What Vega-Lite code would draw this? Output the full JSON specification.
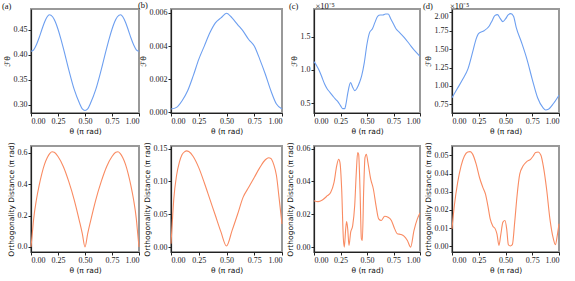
{
  "$schema": "https://vega.github.io/schema/vega-lite/v6.json",
  "padding": {"left": 1, "top": 0, "right": 2, "bottom": 2},
  "background": "white",
  "config": {
    "view": {"stroke": "#999999", "strokeWidth": 2},
    "axis": {"labelFont": "Liberation Serif", "labelFontSize": 8, "labelColor": "#222", "titleFont": "DejaVu Sans", "titleFontSize": 7.5, "titleFontWeight": "normal", "titleColor": "#111", "tickSize": 3, "tickColor": "#222", "tickWidth": 1, "domainColor": "#222", "domainWidth": 1.2, "grid": false, "labelPadding": 1, "titlePadding": 2},
    "title": {"font": "Liberation Serif", "fontSize": 8.5, "fontWeight": "normal", "anchor": "start", "frame": "bounds", "offset": -1, "dx": -1, "color": "#111"},
    "line": {"strokeWidth": 1.1, "interpolate": "monotone", "clip": true}
  },
  "datasets": {
    "ta": [
      {"t": 0, "v": 0.407}, {"t": 0.025, "v": 0.410}, {"t": 0.05, "v": 0.420}, {"t": 0.075, "v": 0.434}, {"t": 0.1, "v": 0.450}, {"t": 0.125, "v": 0.465}, {"t": 0.15, "v": 0.476}, {"t": 0.17, "v": 0.480}, {"t": 0.2, "v": 0.476}, {"t": 0.225, "v": 0.466}, {"t": 0.25, "v": 0.451}, {"t": 0.275, "v": 0.433}, {"t": 0.3, "v": 0.413}, {"t": 0.35, "v": 0.370}, {"t": 0.4, "v": 0.331}, {"t": 0.45, "v": 0.303}, {"t": 0.475, "v": 0.292}, {"t": 0.5, "v": 0.289},
      {"t": 0.525, "v": 0.292}, {"t": 0.55, "v": 0.303}, {"t": 0.6, "v": 0.331}, {"t": 0.65, "v": 0.370}, {"t": 0.7, "v": 0.413}, {"t": 0.725, "v": 0.433}, {"t": 0.75, "v": 0.451}, {"t": 0.775, "v": 0.466}, {"t": 0.8, "v": 0.476}, {"t": 0.83, "v": 0.480}, {"t": 0.85, "v": 0.476}, {"t": 0.875, "v": 0.465}, {"t": 0.9, "v": 0.450}, {"t": 0.925, "v": 0.434}, {"t": 0.95, "v": 0.420}, {"t": 0.975, "v": 0.410}, {"t": 1, "v": 0.407}
    ],
    "tb": [
      {"t": 0, "v": 0.0002}, {"t": 0.05, "v": 0.0003}, {"t": 0.1, "v": 0.0007}, {"t": 0.15, "v": 0.0013}, {"t": 0.2, "v": 0.0022}, {"t": 0.25, "v": 0.0032}, {"t": 0.3, "v": 0.0040}, {"t": 0.35, "v": 0.0048}, {"t": 0.4, "v": 0.0054}, {"t": 0.45, "v": 0.0057}, {"t": 0.5, "v": 0.00598}, {"t": 0.55, "v": 0.0057}, {"t": 0.6, "v": 0.0053}, {"t": 0.65, "v": 0.0049}, {"t": 0.7, "v": 0.0044}, {"t": 0.75, "v": 0.0040}, {"t": 0.8, "v": 0.0032}, {"t": 0.85, "v": 0.0023}, {"t": 0.9, "v": 0.0013}, {"t": 0.95, "v": 0.0005}, {"t": 1, "v": 0.0002}
    ],
    "tc": [
      {"t": 0, "v": 1.125}, {"t": 0.025, "v": 1.065}, {"t": 0.05, "v": 0.99}, {"t": 0.075, "v": 0.89}, {"t": 0.1, "v": 0.79}, {"t": 0.125, "v": 0.715}, {"t": 0.15, "v": 0.665}, {"t": 0.175, "v": 0.615}, {"t": 0.2, "v": 0.565}, {"t": 0.225, "v": 0.525}, {"t": 0.25, "v": 0.465}, {"t": 0.27, "v": 0.42}, {"t": 0.29, "v": 0.42}, {"t": 0.3, "v": 0.475}, {"t": 0.32, "v": 0.665}, {"t": 0.345, "v": 0.81}, {"t": 0.365, "v": 0.74}, {"t": 0.385, "v": 0.69}, {"t": 0.405, "v": 0.725}, {"t": 0.43, "v": 0.815}, {"t": 0.45, "v": 0.915}, {"t": 0.475, "v": 1.115}, {"t": 0.5, "v": 1.39}, {"t": 0.525, "v": 1.565}, {"t": 0.55, "v": 1.615}, {"t": 0.575, "v": 1.715}, {"t": 0.6, "v": 1.805}, {"t": 0.625, "v": 1.825}, {"t": 0.65, "v": 1.825}, {"t": 0.675, "v": 1.84}, {"t": 0.7, "v": 1.84}, {"t": 0.725, "v": 1.765}, {"t": 0.75, "v": 1.69}, {"t": 0.775, "v": 1.615}, {"t": 0.8, "v": 1.575}, {"t": 0.85, "v": 1.49}, {"t": 0.9, "v": 1.39}, {"t": 0.95, "v": 1.29}, {"t": 1, "v": 1.205}
    ],
    "td": [
      {"t": 0, "v": 0.84}, {"t": 0.05, "v": 0.964}, {"t": 0.1, "v": 1.09}, {"t": 0.15, "v": 1.235}, {"t": 0.2, "v": 1.5}, {"t": 0.225, "v": 1.636}, {"t": 0.25, "v": 1.714}, {"t": 0.3, "v": 1.75}, {"t": 0.35, "v": 1.818}, {"t": 0.375, "v": 1.886}, {"t": 0.4, "v": 1.955}, {"t": 0.425, "v": 1.968}, {"t": 0.45, "v": 1.918}, {"t": 0.475, "v": 1.873}, {"t": 0.5, "v": 1.91}, {"t": 0.525, "v": 1.964}, {"t": 0.55, "v": 1.982}, {"t": 0.575, "v": 1.945}, {"t": 0.6, "v": 1.795}, {"t": 0.65, "v": 1.59}, {"t": 0.7, "v": 1.364}, {"t": 0.75, "v": 1.09}, {"t": 0.8, "v": 0.84}, {"t": 0.85, "v": 0.705}, {"t": 0.875, "v": 0.673}, {"t": 0.9, "v": 0.682}, {"t": 0.95, "v": 0.764}, {"t": 1, "v": 0.873}
    ],
    "ba": [
      {"t": 0, "v": 0}, {"t": 0.01, "v": 0.07}, {"t": 0.025, "v": 0.18}, {"t": 0.05, "v": 0.30}, {"t": 0.075, "v": 0.39}, {"t": 0.1, "v": 0.465}, {"t": 0.125, "v": 0.525}, {"t": 0.15, "v": 0.567}, {"t": 0.175, "v": 0.595}, {"t": 0.195, "v": 0.605}, {"t": 0.215, "v": 0.602}, {"t": 0.25, "v": 0.575}, {"t": 0.3, "v": 0.51}, {"t": 0.35, "v": 0.415}, {"t": 0.4, "v": 0.30}, {"t": 0.45, "v": 0.16}, {"t": 0.475, "v": 0.085}, {"t": 0.5, "v": 0},
      {"t": 0.525, "v": 0.085}, {"t": 0.55, "v": 0.16}, {"t": 0.6, "v": 0.30}, {"t": 0.65, "v": 0.415}, {"t": 0.7, "v": 0.51}, {"t": 0.75, "v": 0.575}, {"t": 0.785, "v": 0.602}, {"t": 0.805, "v": 0.605}, {"t": 0.825, "v": 0.595}, {"t": 0.85, "v": 0.567}, {"t": 0.875, "v": 0.525}, {"t": 0.9, "v": 0.465}, {"t": 0.925, "v": 0.39}, {"t": 0.95, "v": 0.30}, {"t": 0.975, "v": 0.18}, {"t": 0.99, "v": 0.07}, {"t": 1, "v": 0}
    ],
    "bb": [
      {"t": 0, "v": 0.005}, {"t": 0.01, "v": 0.033}, {"t": 0.025, "v": 0.073}, {"t": 0.05, "v": 0.109}, {"t": 0.075, "v": 0.129}, {"t": 0.1, "v": 0.141}, {"t": 0.125, "v": 0.1455}, {"t": 0.14, "v": 0.1465}, {"t": 0.16, "v": 0.1455}, {"t": 0.2, "v": 0.138}, {"t": 0.25, "v": 0.121}, {"t": 0.3, "v": 0.098}, {"t": 0.35, "v": 0.073}, {"t": 0.4, "v": 0.048}, {"t": 0.45, "v": 0.023}, {"t": 0.5, "v": 0.0015}, {"t": 0.55, "v": 0.025}, {"t": 0.6, "v": 0.050}, {"t": 0.65, "v": 0.076}, {"t": 0.7, "v": 0.091}, {"t": 0.75, "v": 0.106}, {"t": 0.8, "v": 0.121}, {"t": 0.85, "v": 0.133}, {"t": 0.88, "v": 0.136}, {"t": 0.9, "v": 0.135}, {"t": 0.925, "v": 0.126}, {"t": 0.95, "v": 0.109}, {"t": 0.975, "v": 0.073}, {"t": 1, "v": 0.035}
    ],
    "bc": [
      {"t": 0, "v": 0.0283}, {"t": 0.038, "v": 0.0277}, {"t": 0.079, "v": 0.0287}, {"t": 0.126, "v": 0.0313}, {"t": 0.157, "v": 0.0333}, {"t": 0.189, "v": 0.0394}, {"t": 0.214, "v": 0.0495}, {"t": 0.233, "v": 0.0535}, {"t": 0.245, "v": 0.0515}, {"t": 0.261, "v": 0.0354}, {"t": 0.277, "v": 0.0051}, {"t": 0.286, "v": 0}, {"t": 0.299, "v": 0.0111}, {"t": 0.308, "v": 0.0156}, {"t": 0.318, "v": 0.0111}, {"t": 0.33, "v": 0.001}, {"t": 0.346, "v": 0.0091}, {"t": 0.365, "v": 0.0131}, {"t": 0.384, "v": 0.0253}, {"t": 0.399, "v": 0.0455}, {"t": 0.412, "v": 0.0576}, {"t": 0.421, "v": 0.0566}, {"t": 0.434, "v": 0.0354}, {"t": 0.447, "v": 0.0051}, {"t": 0.456, "v": 0.004}, {"t": 0.469, "v": 0.0354}, {"t": 0.481, "v": 0.0545}, {"t": 0.494, "v": 0.0566}, {"t": 0.509, "v": 0.0515}, {"t": 0.535, "v": 0.0414}, {"t": 0.56, "v": 0.0354}, {"t": 0.585, "v": 0.0253}, {"t": 0.61, "v": 0.0172}, {"t": 0.635, "v": 0.0162}, {"t": 0.667, "v": 0.0188}, {"t": 0.698, "v": 0.0182}, {"t": 0.73, "v": 0.0162}, {"t": 0.761, "v": 0.0111}, {"t": 0.786, "v": 0.0081}, {"t": 0.818, "v": 0.0077}, {"t": 0.849, "v": 0.0067}, {"t": 0.881, "v": 0.004}, {"t": 0.912, "v": 0}, {"t": 0.943, "v": 0.0101}, {"t": 0.975, "v": 0.0172}, {"t": 1, "v": 0.0208}
    ],
    "bd": [
      {"t": 0, "v": 0.0096}, {"t": 0.022, "v": 0.0224}, {"t": 0.053, "v": 0.0351}, {"t": 0.085, "v": 0.0442}, {"t": 0.116, "v": 0.0496}, {"t": 0.147, "v": 0.0518}, {"t": 0.169, "v": 0.052}, {"t": 0.194, "v": 0.0505}, {"t": 0.226, "v": 0.0451}, {"t": 0.257, "v": 0.0378}, {"t": 0.288, "v": 0.0324}, {"t": 0.313, "v": 0.0287}, {"t": 0.335, "v": 0.0224}, {"t": 0.357, "v": 0.0151}, {"t": 0.382, "v": 0.0111}, {"t": 0.404, "v": 0.0096}, {"t": 0.42, "v": 0.0069}, {"t": 0.439, "v": 0.0005}, {"t": 0.455, "v": 0.006}, {"t": 0.476, "v": 0.0133}, {"t": 0.495, "v": 0.0142}, {"t": 0.511, "v": 0.0096}, {"t": 0.527, "v": 0.0009}, {"t": 0.545, "v": 0.0002}, {"t": 0.564, "v": 0.0009}, {"t": 0.586, "v": 0.0133}, {"t": 0.608, "v": 0.0278}, {"t": 0.633, "v": 0.0396}, {"t": 0.665, "v": 0.0442}, {"t": 0.696, "v": 0.0464}, {"t": 0.734, "v": 0.0478}, {"t": 0.759, "v": 0.0496}, {"t": 0.781, "v": 0.0515}, {"t": 0.806, "v": 0.0518}, {"t": 0.831, "v": 0.05}, {"t": 0.853, "v": 0.0442}, {"t": 0.884, "v": 0.0315}, {"t": 0.915, "v": 0.0151}, {"t": 0.947, "v": 0.0042}, {"t": 0.966, "v": 0.0009}, {"t": 0.984, "v": 0.006}, {"t": 1, "v": 0.0124}
    ]
  },
  "columns": 4,
  "align": "each",
  "spacing": {"row": 33, "column": 32},
  "bounds": "flush",
  "concat": [
    {"data": {"name": "ta"}, "width": 108, "height": 104, "title": "(a)",
     "mark": {"type": "line", "color": "#6d9ff0"},
     "encoding": {
       "x": {"field": "t", "type": "quantitative", "scale": {"domain": [0, 1], "nice": false}, "axis": {"values": [0, 0.25, 0.5, 0.75, 1], "format": ".2f", "title": "θ (π rad)"}},
       "y": {"field": "v", "type": "quantitative", "scale": {"domain": [0.284, 0.4914], "nice": false, "zero": false}, "axis": {"values": [0.3, 0.35, 0.4, 0.45], "format": ".2f", "title": "ℱθ"}}}},
    {"data": {"name": "tb"}, "width": 111, "height": 104, "title": "(b)",
     "mark": {"type": "line", "color": "#6d9ff0"},
     "encoding": {
       "x": {"field": "t", "type": "quantitative", "scale": {"domain": [0, 1], "nice": false}, "axis": {"values": [0, 0.25, 0.5, 0.75, 1], "format": ".2f", "title": "θ (π rad)"}},
       "y": {"field": "v", "type": "quantitative", "scale": {"domain": [-0.00004, 0.00624], "nice": false, "zero": false}, "axis": {"values": [0, 0.002, 0.004, 0.006], "format": ".3f", "title": "ℱθ"}}}},
    {"data": {"name": "tc"}, "width": 106, "height": 104, "title": "(c)\u2003\u2003×10⁻⁵",
     "mark": {"type": "line", "color": "#6d9ff0"},
     "encoding": {
       "x": {"field": "t", "type": "quantitative", "scale": {"domain": [0, 1], "nice": false}, "axis": {"values": [0, 0.25, 0.5, 0.75, 1], "format": ".2f", "title": "θ (π rad)"}},
       "y": {"field": "v", "type": "quantitative", "scale": {"domain": [0.354, 1.916], "nice": false, "zero": false}, "axis": {"values": [0.5, 1.0, 1.5], "format": ".1f", "title": "ℱθ"}}}},
    {"data": {"name": "td"}, "width": 107, "height": 104, "title": "(d)\u2003\u2003×10⁻⁵",
     "mark": {"type": "line", "color": "#6d9ff0"},
     "encoding": {
       "x": {"field": "t", "type": "quantitative", "scale": {"domain": [0, 1], "nice": false}, "axis": {"values": [0, 0.25, 0.5, 0.75, 1], "format": ".2f", "title": "θ (π rad)"}},
       "y": {"field": "v", "type": "quantitative", "scale": {"domain": [0.632, 2.045], "nice": false, "zero": false}, "axis": {"values": [0.75, 1.0, 1.25, 1.5, 1.75, 2.0], "format": ".2f", "title": "ℱθ", "labelFlush": 5}}}},
    {"data": {"name": "ba"}, "width": 108, "height": 106,
     "mark": {"type": "line", "color": "#f98b62"},
     "encoding": {
       "x": {"field": "t", "type": "quantitative", "scale": {"domain": [0, 1], "nice": false}, "axis": {"values": [0, 0.25, 0.5, 0.75, 1], "format": ".2f", "title": "θ (π rad)"}},
       "y": {"field": "v", "type": "quantitative", "scale": {"domain": [-0.032, 0.642], "nice": false, "zero": false}, "axis": {"values": [0, 0.2, 0.4, 0.6], "format": ".1f", "title": "Orthogonality Distance (π rad)"}}}},
    {"data": {"name": "bb"}, "width": 111, "height": 106,
     "mark": {"type": "line", "color": "#f98b62"},
     "encoding": {
       "x": {"field": "t", "type": "quantitative", "scale": {"domain": [0, 1], "nice": false}, "axis": {"values": [0, 0.25, 0.5, 0.75, 1], "format": ".2f", "title": "θ (π rad)"}},
       "y": {"field": "v", "type": "quantitative", "scale": {"domain": [-0.0076, 0.154], "nice": false, "zero": false}, "axis": {"values": [0, 0.05, 0.1, 0.15], "format": ".2f", "title": "Orthogonality Distance (π rad)"}}}},
    {"data": {"name": "bc"}, "width": 106, "height": 106,
     "mark": {"type": "line", "color": "#f98b62"},
     "encoding": {
       "x": {"field": "t", "type": "quantitative", "scale": {"domain": [0, 1], "nice": false}, "axis": {"values": [0, 0.25, 0.5, 0.75, 1], "format": ".2f", "title": "θ (π rad)"}},
       "y": {"field": "v", "type": "quantitative", "scale": {"domain": [-0.003, 0.0616], "nice": false, "zero": false}, "axis": {"values": [0, 0.02, 0.04, 0.06], "format": ".2f", "title": "Orthogonality Distance (π rad)"}}}},
    {"data": {"name": "bd"}, "width": 107, "height": 106,
     "mark": {"type": "line", "color": "#f98b62"},
     "encoding": {
       "x": {"field": "t", "type": "quantitative", "scale": {"domain": [0, 1], "nice": false}, "axis": {"values": [0, 0.25, 0.5, 0.75, 1], "format": ".2f", "title": "θ (π rad)"}},
       "y": {"field": "v", "type": "quantitative", "scale": {"domain": [-0.0031, 0.0551], "nice": false, "zero": false}, "axis": {"values": [0, 0.01, 0.02, 0.03, 0.04, 0.05], "format": ".2f", "title": "Orthogonality Distance (π rad)"}}}}
  ]
}
